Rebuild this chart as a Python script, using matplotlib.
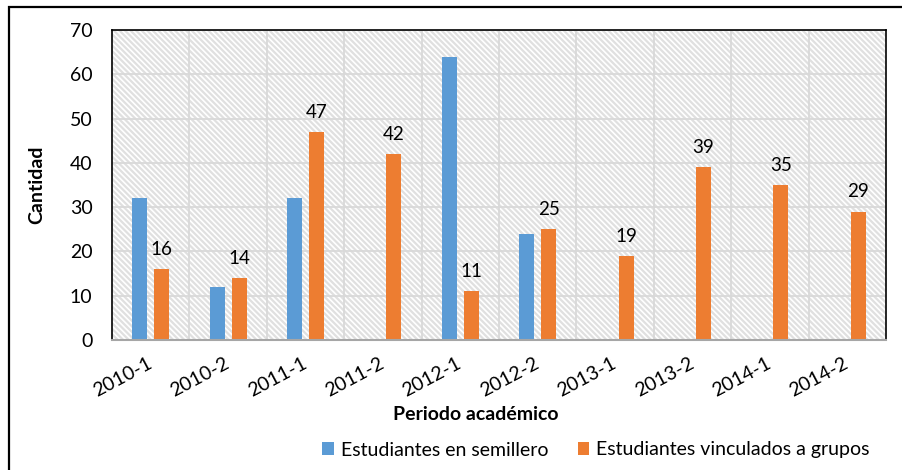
import matplotlib
matplotlib.use("Agg")
import matplotlib.pyplot as plt
from matplotlib.patches import Rectangle
import numpy as np

plt.rcParams['font.family'] = ['Lato', 'DejaVu Sans']
plt.rcParams['hatch.linewidth'] = 1.6

categories = ["2010-1", "2010-2", "2011-1", "2011-2", "2012-1",
              "2012-2", "2013-1", "2013-2", "2014-1", "2014-2"]
semillero = [32, 12, 32, 0, 64, 24, 0, 0, 0, 0]
grupos = [16, 14, 47, 42, 11, 25, 19, 39, 35, 29]
series_names = ["Estudiantes en semillero", "Estudiantes vinculados a grupos"]
yticks = [0, 10, 20, 30, 40, 50, 60, 70]

W, H = 902, 470
fig = plt.figure(figsize=(W / 100, H / 100), dpi=100)
ax = fig.add_axes([112 / W, 1 - 340 / H, 774 / W, 310 / H])

# outer chart border (left and top visible)
fig.patches.append(Rectangle((8.5 / W, -0.1), 1.2, 1 - 6.5 / H + 0.1,
                             transform=fig.transFigure, fill=False,
                             edgecolor='black', lw=1.6, zorder=10))

# hatched background
ax.set_facecolor('white')
ax.add_patch(Rectangle((0, 0), 1, 1, transform=ax.transAxes, facecolor='white',
                       edgecolor='#e0e0e0', hatch='\\' * 6, lw=0, zorder=0))

x = np.arange(len(categories))
bw = 0.194
off = 0.142
ax.bar(x - off, semillero, width=bw, color='#5B9BD5', zorder=3, label=series_names[0])
ax.bar(x + off, grupos, width=bw, color='#ED7D31', zorder=3, label=series_names[1])

for xi, v in zip(x + off, grupos):
    ax.annotate(str(v), (xi, v), xytext=(0, 8), textcoords='offset points',
                ha='center', va='bottom', fontsize=13.5, color='black')

ax.set_xlim(-0.5, len(categories) - 0.5)
ax.set_ylim(0, 70)
ax.set_yticks(yticks)
ax.set_yticklabels([str(t) for t in yticks], fontsize=14)
ax.set_xticks(x)
ax.set_xticklabels(categories, fontsize=14, rotation=28, ha='right', va='center',
                   rotation_mode='anchor')
ax.tick_params(axis='both', length=0)
ax.tick_params(axis='y', pad=14)
ax.tick_params(axis='x', pad=16)

# gridlines
for yv in yticks[1:]:
    ax.axhline(yv, color='#d9d9d9', lw=1.3, zorder=1)
for b in np.arange(0.5, len(categories) - 0.5, 1):
    ax.axvline(b, color='#d9d9d9', lw=1.3, zorder=1)

for s in ['left', 'top', 'right']:
    ax.spines[s].set_color('black')
    ax.spines[s].set_linewidth(1.2)
ax.spines['bottom'].set_color('#a6a6a6')
ax.spines['bottom'].set_linewidth(1.5)
ax.spines['bottom'].set_zorder(4)

fig.text(476 / W, 1 - 415 / H, "Periodo académico", ha='center', va='center',
         fontsize=14, fontweight='bold')
fig.text(37 / W, 1 - 185 / H, "Cantidad", ha='center', va='center',
         fontsize=14, fontweight='bold', rotation=90)

fig.legend(loc='center', bbox_to_anchor=(596 / W, 1 - 450 / H), ncol=2,
           frameon=False, fontsize=14, handlelength=0.6, handleheight=0.6,
           handletextpad=0.35, columnspacing=1.5)

fig.savefig("out.png", dpi=100)
